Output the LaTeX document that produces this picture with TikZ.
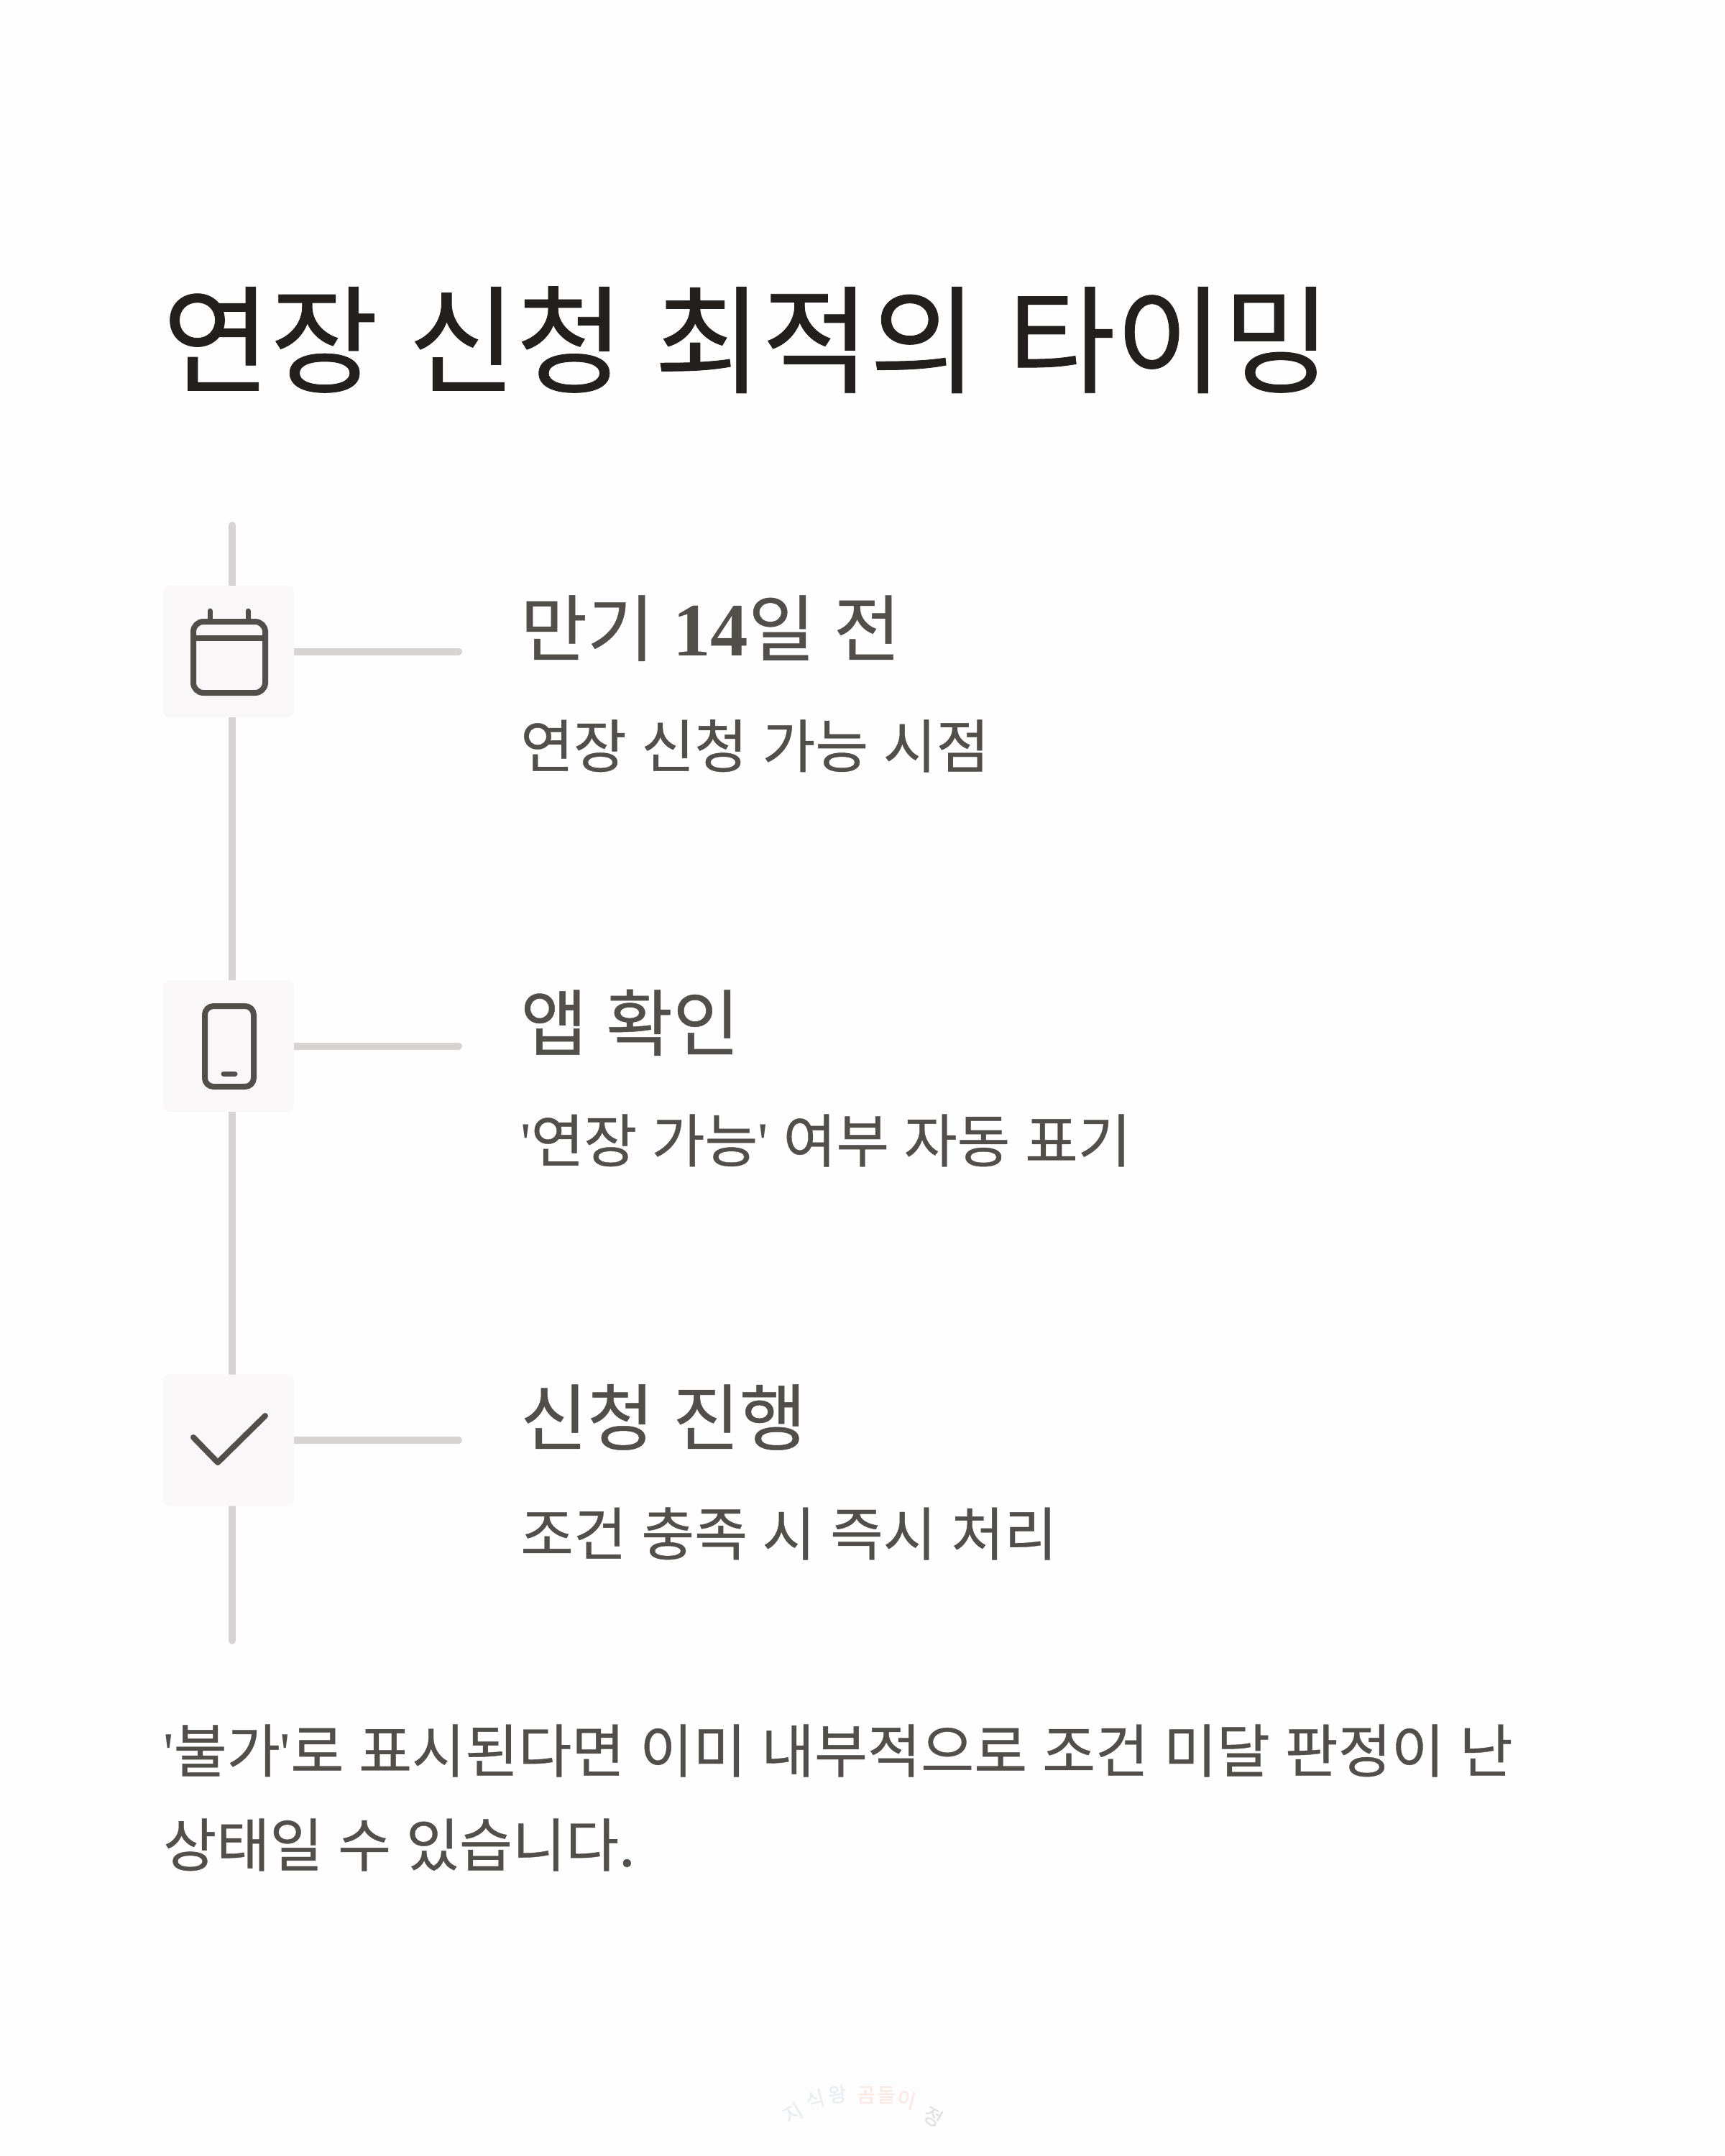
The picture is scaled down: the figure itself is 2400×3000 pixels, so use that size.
\documentclass[tikz,border=0pt]{standalone}
\usepackage{fontspec}
\usepackage{xcolor}
\usepackage{tikz}
\usetikzlibrary{positioning, calc, backgrounds}
\setmainfont{Noto Sans CJK KR}[WordSpace=1.15, FakeBold=0.5]
\newfontfamily\quotefont{Liberation Serif}
\newfontfamily\numfont{Liberation Serif Bold}
\definecolor{pagewhite}{HTML}{FEFEFE}
\definecolor{stampwhite}{HTML}{FDFDFD}
\definecolor{inkdark}{HTML}{231F1C}
\definecolor{inkgray}{HTML}{524F4B}
\definecolor{railgray}{HTML}{D7D3D3}
\definecolor{boxgray}{HTML}{F9F7F8}
\definecolor{markblue}{HTML}{E6EEF2}
\definecolor{markred}{HTML}{FBE8E5}
\definecolor{markgray}{HTML}{E2E2E4}
\newcommand{\fontpx}[1]{\fontsize{#1}{#1}\selectfont}
\newcommand{\sq}{{\quotefont'}}
\newcommand{\numfourteen}{{\numfont\fontsize{105}{105}\selectfont 14}}

\begin{document}
\begin{tikzpicture}[
    x=1pt, y=-1pt,
    iconbox/.style={fill=boxgray, rounded corners=9pt, minimum width=182pt, minimum height=183pt, inner sep=0pt, outer sep=0pt},
    rail/.style={draw=railgray, line width=10pt, line cap=round},
    icon/.style={draw=inkgray, line width=8pt, line cap=round, line join=round},
    title/.style={anchor=base west, inner sep=0pt, text=inkdark, font=\fontpx{163}},
    head/.style={anchor=base west, inner sep=0pt, text=inkgray, font=\fontpx{101}},
    sub/.style={anchor=base west, inner sep=0pt, text=inkgray, font=\fontpx{80.2}},
    note/.style={anchor=base west, inner sep=0pt, text=inkgray, font=\fontpx{80.5}},
    stamp/.style={inner sep=0pt, font=\fontpx{28}}
]
    \useasboundingbox (0,0) rectangle (2400,3000);

    \node[title] (maintitle) at (226,534) {연장 신청 최적의 타이밍};

    \node[iconbox] (calbox) at (318,906.5) {};
    \node[iconbox] (phonebox) at (318,1455.5) {};
    \node[iconbox] (checkbox) at (318,2004) {};
    \coordinate (railtop) at (323,731);
    \coordinate (railend) at (323,2283);
    \coordinate (calend) at (638,906.5);
    \coordinate (phoneend) at (638,1455.5);
    \coordinate (checkend) at (638,2004);

    % page and rail
    \begin{pgfonlayer}{background}
        \fill[pagewhite] (0,0) rectangle (2400,3000);
        \fill[stampwhite] (1072,2865) rectangle (1328,3000);
        \draw[rail] (railtop) -- ([xshift=5pt]calbox.north);
        \draw[rail] ([xshift=5pt]calbox.south) -- ([xshift=5pt]phonebox.north);
        \draw[rail] ([xshift=5pt]phonebox.south) -- ([xshift=5pt]checkbox.north);
        \draw[rail] ([xshift=5pt]checkbox.south) -- (railend);
        \draw[rail] (calbox.east) -- (calend);
        \draw[rail] (phonebox.east) -- (phoneend);
        \draw[rail] (checkbox.east) -- (checkend);
    \end{pgfonlayer}

    % icons
    \draw[icon, rounded corners=14pt] (269,865) rectangle (369,964);
    \draw[icon] (269,888) -- (369,888);
    \draw[icon, line width=7pt] (292,850) -- (292,865);
    \draw[icon, line width=7pt] (345,850) -- (345,865);
    \draw[icon, rounded corners=12pt] (285,1400) rectangle (353,1512);
    \draw[icon, line width=7pt] (311,1494) -- (327,1494);
    \draw[icon] (269,2000) -- (303,2035) -- (369,1970);

    % labels
    \node[head] (calhead) at (724,912) {만기 \numfourteen 일 전};
    \node[sub] (calsub) at (724,1068) {연장 신청 가능 시점};
    \node[head] (phonehead) at (724,1461) {앱 확인};
    \node[sub] (phonesub) at (724,1617) {\sq 연장 가능\sq{} 여부 자동 표기};
    \node[head] (checkhead) at (724,2010) {신청 진행};
    \node[sub] (checksub) at (724,2164) {조건 충족 시 즉시 처리};

    \node[note] (noteone) at (227,2466) {\sq 불가\sq 로 표시된다면 이미 내부적으로 조건 미달 판정이 난};
    \node[note] (notetwo) at (227,2597) {상태일 수 있습니다.};

    % stamp
    \node[stamp, text=markblue, rotate=30] (stampa) at (1103,2940) {지};
    \node[stamp, text=markblue, rotate=15] (stampb) at (1134,2921) {식};
    \node[stamp, text=markblue, rotate=8] (stampc) at (1165,2914) {왕};
    \node[stamp, text=markred] (stampd) at (1205,2915) {곰};
    \node[stamp, text=markred] (stampe) at (1233,2915) {돌};
    \node[stamp, text=markred, rotate=-15] (stampf) at (1261,2921) {이};
    \node[stamp, text=markgray, rotate=-30] (stampg) at (1298,2945) {정};
\end{tikzpicture}
\end{document}
